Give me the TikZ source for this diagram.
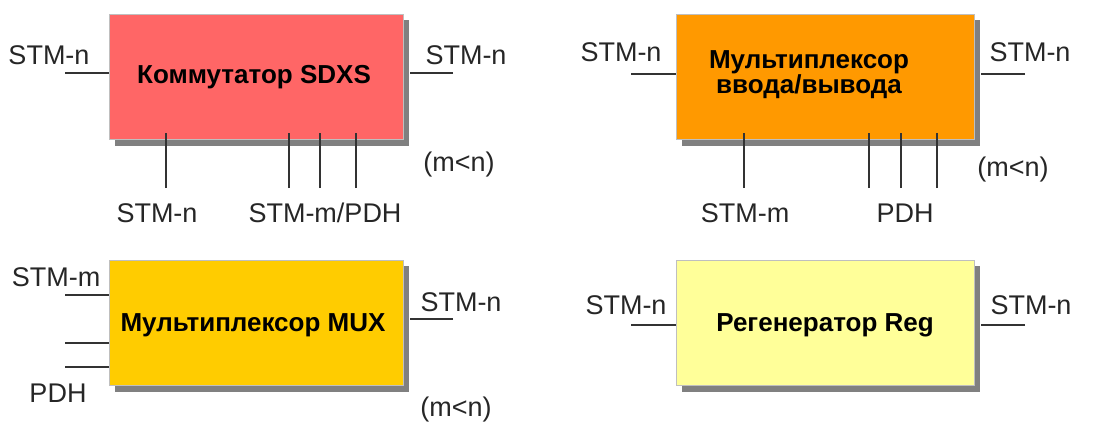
\documentclass[tikz,border=0pt]{standalone}
\usepackage{fontspec}
\setmainfont{Liberation Sans}
\begin{document}
\begin{tikzpicture}[x=1pt,y=-1pt,
  blk/.style={draw=black!25, line width=0.6pt, inner sep=0pt, anchor=north west},
  shade/.style={fill=black!50, draw=none},
  wire/.style={draw=black!80, line width=1.3pt},
  lbl/.style={font=\fontsize{27}{30}\selectfont, text=black!85, inner sep=0pt},
  ttl/.style={font=\fontsize{26}{25}\selectfont\bfseries, text=black, inner sep=0pt, align=center}]
\useasboundingbox (0,0) rectangle (1106,421);
% shadows
\fill[shade] (115,20) rectangle (409,146);
\fill[shade] (682,20) rectangle (980,146);
\fill[shade] (115,266) rectangle (409,392);
\fill[shade] (682,266) rectangle (980,392);
% boxes
\node[blk, fill={rgb,255:red,255;green,102;blue,102}, minimum width=294pt, minimum height=125pt] (sdxs) at (109,14) {};
\node[blk, fill={rgb,255:red,255;green,153;blue,0}, minimum width=298pt, minimum height=125pt] (adm) at (676,14) {};
\node[blk, fill={rgb,255:red,255;green,204;blue,0}, minimum width=294pt, minimum height=125pt] (mux) at (109,260) {};
\node[blk, fill={rgb,255:red,255;green,255;blue,153}, minimum width=298pt, minimum height=125pt] (reg) at (676,260) {};
% titles
\node[ttl] (t1) at (254,77) {Коммутатор SDXS};
\node[ttl] (t2) at (809,75) {Мультиплексор\\ввода/вывода};
\node[ttl] (t3) at (253,325) {Мультиплексор MUX};
\node[ttl] (t4) at (825,325) {Регенератор Reg};
% coordinates for wire ends
\coordinate (a1) at (65,73); \coordinate (a2) at (453,73);
\coordinate (b1) at (166,188); \coordinate (b2) at (289,188); \coordinate (b3) at (320,188); \coordinate (b4) at (356,188);
\coordinate (c1) at (631,74); \coordinate (c2) at (1025,74);
\coordinate (d1) at (744,188); \coordinate (d2) at (869,188); \coordinate (d3) at (901,188); \coordinate (d4) at (937,188);
\coordinate (e1) at (65,295); \coordinate (e2) at (65,343); \coordinate (e3) at (65,367); \coordinate (e4) at (453,319);
\coordinate (f1) at (631,325); \coordinate (f2) at (1025,325);
% wires SDXS
\draw[wire] (a1) -- (a1 -| sdxs.west);
\draw[wire] (a2) -- ([xshift=6pt]a2 -| sdxs.east);
\foreach \p in {b1,b2,b3,b4} \draw[wire] (\p) -- ([yshift=7pt]\p |- sdxs.south);
% wires ADM
\draw[wire] (c1) -- (c1 -| adm.west);
\draw[wire] (c2) -- ([xshift=6pt]c2 -| adm.east);
\foreach \p in {d1,d2,d3,d4} \draw[wire] (\p) -- ([yshift=7pt]\p |- adm.south);
% wires MUX
\foreach \p in {e1,e2,e3} \draw[wire] (\p) -- (\p -| mux.west);
\draw[wire] (e4) -- ([xshift=6pt]e4 -| mux.east);
% wires Reg
\draw[wire] (f1) -- (f1 -| reg.west);
\draw[wire] (f2) -- ([xshift=6pt]f2 -| reg.east);
% labels
\node[lbl] (l1) at (49,55) {STM-n};
\node[lbl] (l2) at (466,55) {STM-n};
\node[lbl] (l3) at (157,213) {STM-n};
\node[lbl] (l4) at (325,213) {STM-m/PDH};
\node[lbl] (l5) at (459,165) {(m<n)};
\node[lbl] (l6) at (621,52) {STM-n};
\node[lbl] (l7) at (1030,52) {STM-n};
\node[lbl] (l8) at (745,213) {STM-m};
\node[lbl] (l9) at (905,213) {PDH};
\node[lbl] (l10) at (1013,170) {(m<n)};
\node[lbl] (l11) at (56,277) {STM-m};
\node[lbl] (l12) at (58,393) {PDH};
\node[lbl] (l13) at (461,302) {STM-n};
\node[lbl] (l14) at (456,410) {(m<n)};
\node[lbl] (l15) at (626,305) {STM-n};
\node[lbl] (l16) at (1031,305) {STM-n};
\end{tikzpicture}
\end{document}
